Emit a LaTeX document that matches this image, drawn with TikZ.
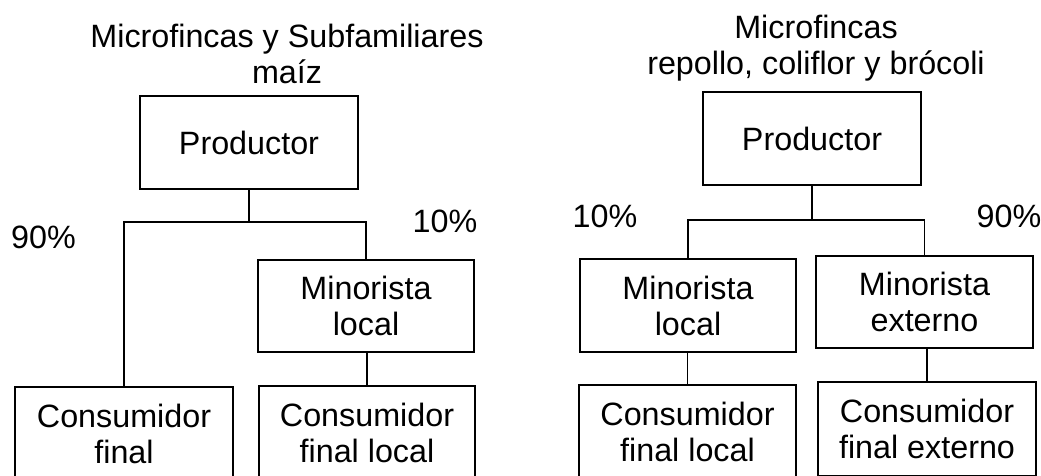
\documentclass[tikz,border=0pt]{standalone}
\usepackage{fontspec}
\setmainfont{Liberation Sans}
\begin{document}
\begin{tikzpicture}[x=1pt,y=-1pt,
  every node/.style={inner sep=0pt,outer sep=0pt,font=\fontsize{32.3}{36}\selectfont},
  box/.style={draw,line width=1.6pt,align=center},
  link/.style={line width=1.5pt},
  pct/.style={anchor=base}]
\clip (0,0) rectangle (1041,475);
\fill[white] (0,0) rectangle (1041,475);
% left diagram
\node[align=center] (t1) at (287,54) {Microfincas y Subfamiliares\\ma\'{\i}z};
\node[box,minimum width=218pt,minimum height=93pt] (p1) at (249,142.5) {Productor};
\node[box,minimum width=216pt,minimum height=92pt] (m1) at (366,306) {Minorista\\local};
\node[box,anchor=north,minimum width=218pt,minimum height=94pt] (c1) at (124,387) {Consumidor\\final};
\node[box,anchor=north,minimum width=216pt,minimum height=94pt] (c2) at (367,386) {Consumidor\\final local};
\coordinate (b1) at (0,222);
\draw[link] (p1.south) -- (p1.south |- b1);
\draw[link] (c1.north) -- (c1.north |- b1) -- (m1.north |- b1) -- (m1.north);
\draw[link] (m1.south -| c2.north) -- (c2.north);
\node[pct] (l90) at (43.5,248) {90\%};
\node[pct] (l10) at (445,232) {10\%};
% right diagram
\node[align=center] (t2) at (816,48) {Microfincas\\repollo, coliflor y br\'ocoli};
\node[box,minimum width=218pt,minimum height=93pt] (p2) at (812,138.5) {Productor};
\node[box,minimum width=216pt,minimum height=93pt] (m2) at (688,305.5) {Minorista\\local};
\node[box,minimum width=217pt,minimum height=92pt] (m3) at (924.5,302) {Minorista\\externo};
\node[box,anchor=north,minimum width=217pt,minimum height=94pt] (c3) at (687.5,385) {Consumidor\\final local};
\node[box,anchor=north,minimum width=218pt,minimum height=94pt] (c4) at (927,382) {Consumidor\\final externo};
\coordinate (b2) at (0,220);
\draw[link] (p2.south) -- (p2.south |- b2);
\draw[link] (m2.north) -- (m2.north |- b2) -- (m3.north |- b2) -- (m3.north);
\draw[link] (m2.south -| c3.north) -- (c3.north);
\draw[link] (m3.south -| c4.north) -- (c4.north);
\node[pct] (r10) at (605,227) {10\%};
\node[pct] (r90) at (1009,227) {90\%};
\end{tikzpicture}
\end{document}
